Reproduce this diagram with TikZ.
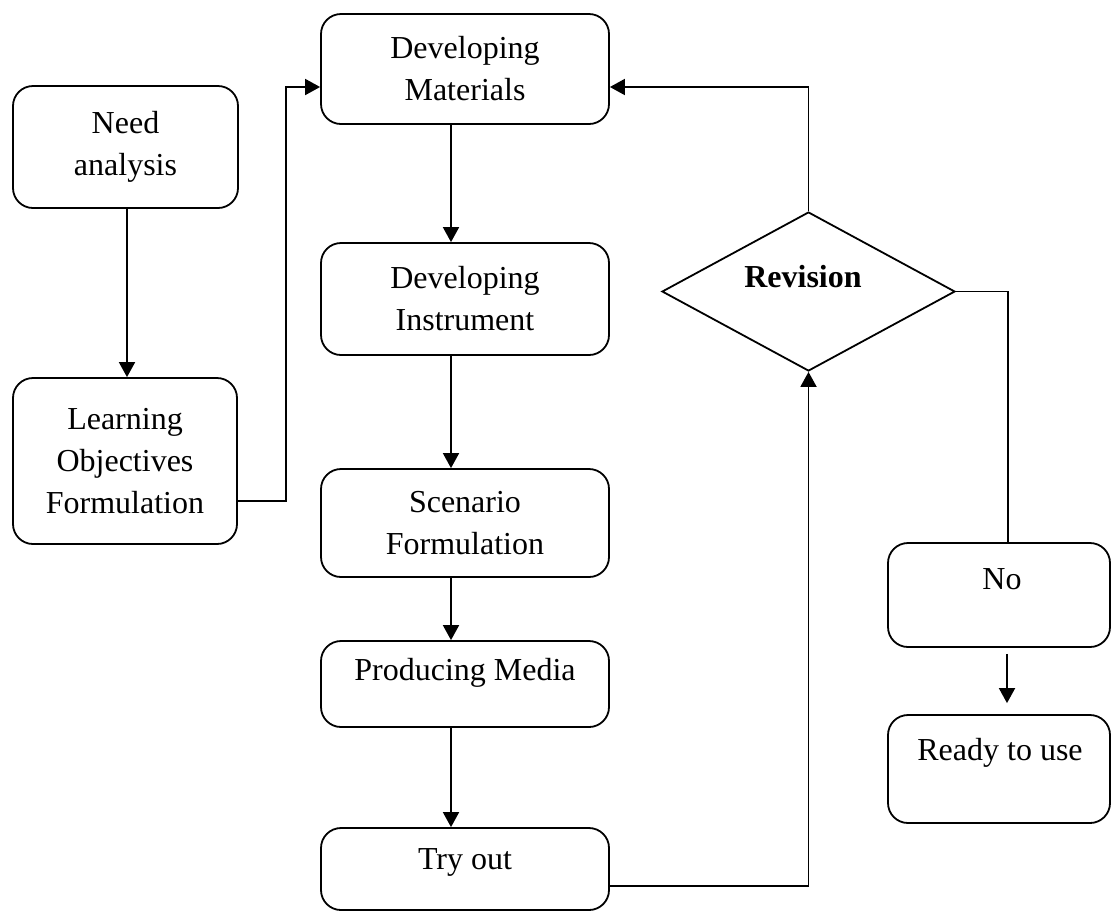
\documentclass[tikz,border=0pt]{standalone}
\usepackage{fontspec}
\setmainfont{Liberation Serif}
\usetikzlibrary{shapes.geometric,arrows.meta}
\begin{document}
\begin{tikzpicture}[x=0.5pt,y=-0.5pt,
  box/.style={draw,line width=0.9pt,rounded corners=10pt,align=center,font=\fontsize{16}{21}\selectfont,inner sep=0pt},
  txt/.style={align=center,font=\fontsize{16}{21}\selectfont,inner sep=0pt},
  arr/.style={line width=0.9pt,-{Triangle[length=7.5pt,width=8pt]}},
  ln/.style={line width=0.9pt}]
\useasboundingbox (0,0) rectangle (1112,912);
\node[box,minimum width=112.5pt,minimum height=61pt] (need) at (125.5,147) {Need\\analysis};
\node[box,minimum width=112pt,minimum height=83pt] (lof) at (125,461) {Learning\\Objectives\\Formulation};
\node[box,minimum width=144pt,minimum height=55pt] (dm) at (465,69) {Developing\\Materials};
\node[box,minimum width=144pt,minimum height=56pt] (di) at (465,299) {Developing\\Instrument};
\node[box,minimum width=144pt,minimum height=54pt] (sf) at (465,523) {Scenario\\Formulation};
\node[box,minimum width=144pt,minimum height=43pt] (pm) at (465,684) {};
\node[txt] (pmt) at (465,673) {Producing Media};
\node[box,minimum width=144pt,minimum height=41pt] (try) at (465,869) {};
\node[txt] (tryt) at (465,862) {Try out};
\node[draw,diamond,line width=0.9pt,minimum width=146.5pt,minimum height=79.5pt,inner sep=0pt] (rev) at (808.5,291.5) {};
\node[txt,font=\fontsize{16}{21}\selectfont\bfseries] (revt) at (803,277) {Revision};
\node[box,minimum width=111pt,minimum height=52pt] (no) at (999,595) {};
\node[txt] (not) at (1002,579) {No};
\node[box,minimum width=111pt,minimum height=54pt] (ready) at (999,769) {};
\node[txt] (readyt) at (1000,753) {Ready to use};
% connectors
\draw[arr] ([xshift=0.75pt]need.south) -- ([xshift=0.75pt]need.south |- lof.north);
\draw[arr] ([shift={(0,40)}]lof.east) -- ++(48,0) |- ([shift={(0,18)}]dm.west);
\draw[arr] ([xshift=-7pt]dm.south) -- ([xshift=-7pt]di.north);
\draw[arr] ([xshift=-7pt]di.south) -- ([xshift=-7pt]sf.north);
\draw[arr] ([xshift=-7pt]sf.south) -- ([xshift=-7pt]pm.north);
\draw[arr] ([xshift=-7pt]pm.south) -- ([xshift=-7pt]try.north);
\draw[arr] ([shift={(0,17)}]try.east) -| (rev.south);
\draw[arr] (rev.north) |- ([shift={(0,18)}]dm.east);
\draw[ln] (rev.east) -| ([shift={(9,0)}]no.north);
\draw[arr] ([shift={(8,6)}]no.south) -- ([shift={(8,-11)}]ready.north);
\end{tikzpicture}
\end{document}
